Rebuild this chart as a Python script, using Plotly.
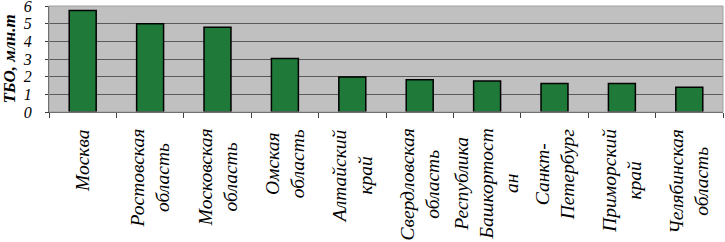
import plotly.graph_objects as go

regions = [["Москва"], ["Ростовская", "область"], ["Московская", "область"],
           ["Омская", "область"], ["Алтайский", "край"], ["Свердловская", "область"],
           ["Республика", "Башкортост", "ан"], ["Санкт-", "Петербург"],
           ["Приморский", "край"], ["Челябинская", "область"]]
values = [5.75, 5.0, 4.8, 3.03, 1.98, 1.82, 1.75, 1.62, 1.62, 1.4]
y_ticks = [0, 1, 2, 3, 4, 5, 6]
y_title = "ТБО, млн.т"

cats = [" ".join(r) for r in regions]
serif = "Liberation Serif, Times New Roman, serif"

fig = go.Figure(go.Bar(
    x=cats, y=values, width=0.4,
    marker=dict(color="#1f7a3a", line=dict(color="black", width=1.5)),
))

annotations = []
for c, lines in zip(cats, regions):
    annotations.append(dict(
        x=c, xref="x", y=-0.14, yref="paper", text="<br>".join(lines),
        showarrow=False, align="center",
        textangle=-90, xanchor="center", yanchor="top",
        font=dict(family=serif, size=19.5, color="black", style="italic"),
    ))

fig.update_layout(
    width=725, height=242,
    margin=dict(l=49, r=2, t=6, b=130, autoexpand=False),
    paper_bgcolor="white", plot_bgcolor="#c0c0c0",
    showlegend=False, bargap=0.6,
    annotations=annotations,
    font=dict(family=serif, color="black"),
)
fig.update_xaxes(showticklabels=False, ticks="outside", tickson="boundaries",
                 ticklen=5, tickcolor="#404040", showline=True, linecolor="#404040",
                 linewidth=1, mirror=False, automargin=False)
fig.update_yaxes(range=[0, 6], tickvals=y_ticks, ticks="outside", ticklen=3,
                 tickcolor="#404040", showline=True, linecolor="#404040",
                 gridcolor="#5a5a5a", gridwidth=1, zeroline=False, automargin=False,
                 ticklabeloverflow="allow", ticklabelstandoff=10,
                 tickfont=dict(family=serif, size=16, style="italic"),
                 title=dict(text="<b><i>" + y_title + "</i></b>", standoff=5,
                            font=dict(family=serif, size=17)))
fig.add_shape(type="rect", xref="paper", yref="paper", x0=0, x1=1, y0=0, y1=1,
              line=dict(color="#a0a0a0", width=1))
fig.write_html("out.html", config={"displayModeBar": False},
               post_script="document.body.style.margin='0';document.body.style.padding='0';")
